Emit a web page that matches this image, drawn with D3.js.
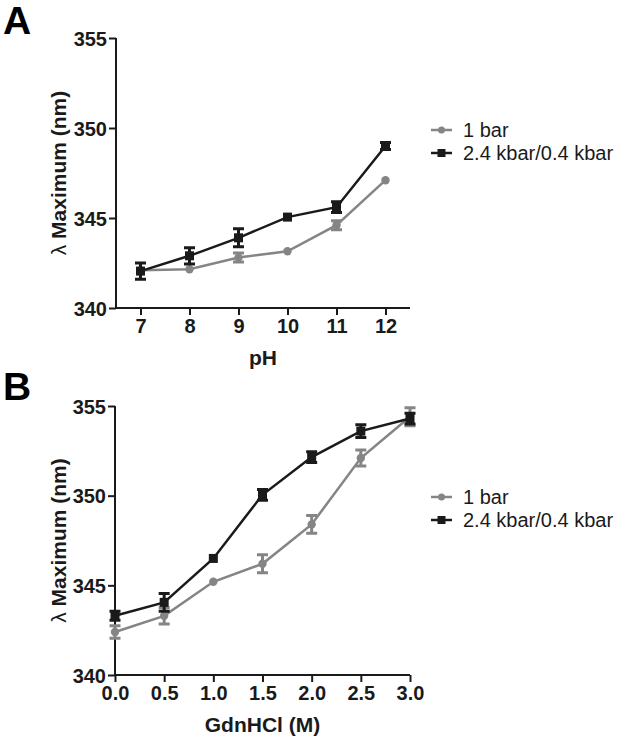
<!DOCTYPE html>
<html><head><meta charset="utf-8">
<script src="https://cdn.jsdelivr.net/npm/d3@7"></script>
<style>body{margin:0;background:#fff}svg{display:block}text{font-family:"Liberation Sans",Arial,sans-serif}</style>
</head><body>
<svg id="c" width="625" height="740"></svg>
<script>
// Panel A data
const phValues = [7, 8, 9, 10, 11, 12];
const phOneBar = [342.1, 342.15, 342.8, 343.15, 344.6, 347.1];
const phOneBarErr = [0.1, 0.05, 0.25, 0.05, 0.25, 0.05];
const phHigh = [342.05, 342.9, 343.9, 345.05, 345.6, 349.0];
const phHighErr = [0.45, 0.45, 0.5, 0.05, 0.3, 0.2];
const phTicks = [7, 8, 9, 10, 11, 12];
// Panel B data
const gdnValues = [0, 0.5, 1.0, 1.5, 2.0, 2.5, 3.0];
const gdnOneBar = [342.4, 343.3, 345.2, 346.2, 348.4, 352.1, 354.4];
const gdnOneBarErr = [0.35, 0.45, 0.05, 0.5, 0.5, 0.45, 0.5];
const gdnHigh = [343.3, 344.05, 346.5, 350.05, 352.15, 353.6, 354.3];
const gdnHighErr = [0.25, 0.5, 0.05, 0.3, 0.3, 0.35, 0.3];
const gdnTicks = [0, 0.5, 1.0, 1.5, 2.0, 2.5, 3.0];
const yTicks = [340, 345, 350, 355];
const seriesNames = ["1 bar", "2.4 kbar/0.4 kbar"];
const GRAY = "#858585", BLACK = "#1a1a1a";

const svg = d3.select("#c");

function panel(opt) {
  const g = svg.append("g");
  const x = d3.scaleLinear().domain(opt.xDomain).range(opt.xRange);
  const y = d3.scaleLinear().domain([340, 355]).range(opt.yRange);
  // axes
  const ya = g.append("g").attr("transform", `translate(${opt.xRange[0]},0)`)
    .call(d3.axisLeft(y).tickValues(yTicks).tickSize(7).tickPadding(2).tickFormat(d3.format("d")));
  const xa = g.append("g").attr("transform", `translate(0,${opt.yRange[0]})`)
    .call(d3.axisBottom(x).tickValues(opt.xTicks).tickSize(7).tickPadding(4).tickFormat(opt.fmt));
  [ya, xa].forEach(a => {
    a.select(".domain").attr("stroke", BLACK).attr("stroke-width", 2)
      .attr("d", a === ya ? `M0,${opt.yRange[0]}V${opt.yRange[1]}` : `M${opt.xRange[0]},0H${opt.xRange[1]}`);
    a.selectAll(".tick line").attr("stroke", BLACK).attr("stroke-width", 2);
    a.selectAll(".tick text").attr("fill", BLACK).style("font-size", "20px").style("font-weight", "bold").style("font-family", "Liberation Sans, Arial, sans-serif");
  });
  ya.selectAll(".tick text").attr("dy", "0.36em");
  // labels
  g.append("text").attr("x", (opt.xRange[0] + opt.xRange[1]) / 2 + (opt.xLabelShift||0)).attr("y", opt.yRange[0] + 57)
    .attr("text-anchor", "middle").style("font-size", "21px").style("font-weight", "bold").attr("fill", BLACK).text(opt.xLabel);
  const yl = g.append("text").attr("transform", `translate(66,${(opt.yRange[0] + opt.yRange[1]) / 2}) rotate(-90)`)
    .attr("text-anchor", "middle").style("font-size", "21px").style("font-weight", "bold").attr("fill", BLACK);
  yl.append("tspan").style("font-weight", "normal").text("λ");
  yl.append("tspan").text(" Maximum (nm)");
  g.append("text").attr("x", 3).attr("y", opt.letterY).style("font-size", "39px").style("font-weight", "bold").attr("fill", "#000").text(opt.letter);

  const series = [
    {v: opt.one, e: opt.oneErr, c: GRAY, m: "circle"},
    {v: opt.high, e: opt.highErr, c: BLACK, m: "square"}
  ];
  series.forEach(s => {
    const pts = opt.xs.map((xv, i) => ({x: xv, y: s.v[i], e: s.e[i]}));
    g.append("path").datum(pts).attr("fill", "none").attr("stroke", s.c).attr("stroke-width", 2.5)
      .attr("d", d3.line().x(d => x(d.x)).y(d => y(d.y)));
    const eb = g.append("g").attr("stroke", s.c).attr("stroke-width", 3).attr("fill", "none");
    pts.forEach(d => {
      if (y(d.y - d.e) - y(d.y + d.e) < 4) return;
      const cx = x(d.x), y1 = y(d.y - d.e), y2 = y(d.y + d.e);
      eb.append("path").attr("d", `M${cx},${y1}V${y2}M${cx-5.5},${y1}H${cx+5.5}M${cx-5.5},${y2}H${cx+5.5}`);
    });
    pts.forEach(d => {
      if (s.m === "circle") g.append("circle").attr("cx", x(d.x)).attr("cy", y(d.y)).attr("r", 4.2).attr("fill", s.c);
      else g.append("rect").attr("x", x(d.x) - 4.5).attr("y", y(d.y) - 4.5).attr("width", 9).attr("height", 9).attr("fill", s.c);
    });
  });
  // legend
  series.forEach((s, i) => {
    const ly = opt.legendY + i * 23;
    const lg = g.append("g");
    lg.append("line").attr("x1", 431).attr("x2", 452).attr("y1", ly).attr("y2", ly).attr("stroke", s.c).attr("stroke-width", 2.5);
    if (s.m === "circle") lg.append("circle").attr("cx", 441.5).attr("cy", ly).attr("r", 3.5).attr("fill", s.c);
    else lg.append("rect").attr("x", 437.5).attr("y", ly - 4).attr("width", 8).attr("height", 8).attr("fill", s.c);
    lg.append("text").attr("x", 463).attr("y", ly).attr("dy", "0.35em").style("font-size", "20px").attr("fill", BLACK).text(seriesNames[i]);
  });
}

panel({letter: "A", letterY: 34, xDomain: [6.5, 12.5], xRange: [116, 410], yRange: [308, 38],
  xTicks: phTicks, fmt: d3.format("d"), xLabel: "pH", xs: phValues,
  one: phOneBar, oneErr: phOneBarErr, high: phHigh, highErr: phHighErr, legendY: 130});
panel({letter: "B", letterY: 400, xDomain: [0, 3], xRange: [115, 410], yRange: [675, 406],
  xTicks: gdnTicks, fmt: d3.format(".1f"), xLabel: "GdnHCl (M)", xs: gdnValues,
  one: gdnOneBar, oneErr: gdnOneBarErr, high: gdnHigh, highErr: gdnHighErr, legendY: 497});
</script>
</body></html>
